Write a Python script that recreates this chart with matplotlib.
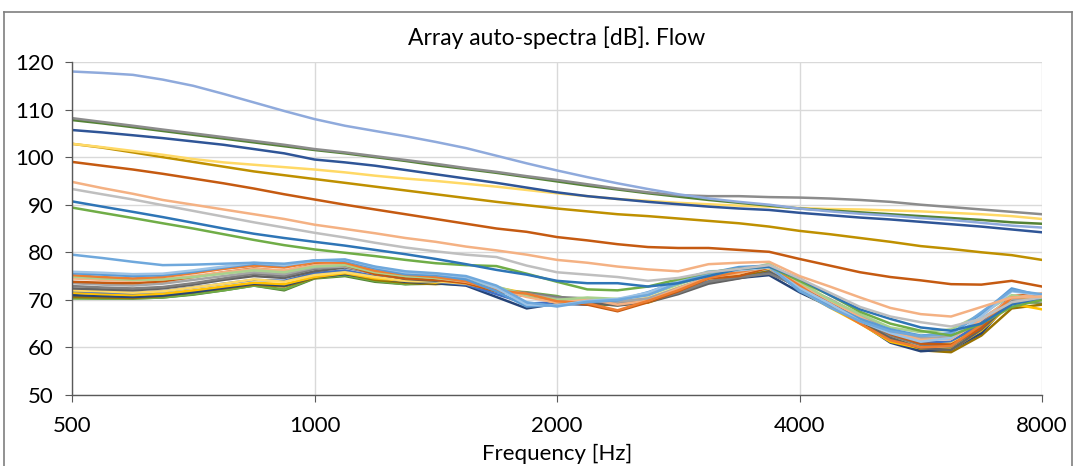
import matplotlib
matplotlib.use("Agg")
import matplotlib.pyplot as plt
from matplotlib.lines import Line2D
from matplotlib.ticker import FixedLocator, NullLocator

plt.rcParams['font.family'] = ['Lato', 'DejaVu Sans']

# frequency grid (Hz), 1/8 octave spacing
freq = [500, 545, 595, 648, 707, 771, 841, 917, 1000, 1091, 1189, 1297, 1414,
        1542, 1682, 1834, 2000, 2181, 2378, 2594, 2828, 3084, 3364, 3668, 4000,
        4362, 4757, 5187, 5657, 6169, 6727, 7336, 8000]

# cluster of channels (low level)
c_lightblue = [75.9, 75.7, 75.4, 75.5, 76.2, 77.0, 77.8, 77.3, 78.2, 78.4, 76.9, 75.8, 75.5, 74.8, 72.5, 69.0, 68.8,
               69.8, 70.2, 71.5, 74.0, 76.0, 76.2, 76.8, 72.5, 69.2, 65.5, 63.0, 61.2, 62.0, 66.5, 71.8, 71.0]
c_blue = [75.6, 75.3, 75.0, 75.2, 75.9, 76.8, 77.6, 77.2, 78.3, 78.2, 76.6, 75.4, 75.2, 74.3, 71.8, 68.6, 68.9,
          69.5, 69.9, 71.6, 73.8, 75.6, 76.9, 77.2, 71.8, 69.0, 66.0, 63.8, 62.5, 63.0, 67.0, 72.4, 70.8]
c_orange = [75.2, 74.8, 74.5, 74.8, 75.6, 76.5, 77.2, 76.8, 77.9, 77.8, 76.1, 75.3, 74.8, 73.9, 72.0, 71.3, 69.7,
            69.3, 67.8, 69.8, 72.0, 74.6, 75.9, 77.0, 73.0, 68.8, 65.0, 61.5, 60.0, 60.3, 64.8, 70.5, 70.6]
c_lightgreen = [74.9, 74.5, 74.2, 74.3, 74.8, 75.5, 76.2, 75.8, 77.0, 77.3, 75.8, 75.0, 74.6, 74.0, 72.8, 71.0, 70.0,
                70.5, 70.2, 71.0, 73.2, 75.3, 76.0, 77.6, 73.8, 70.0, 67.0, 64.2, 63.2, 63.8, 67.0, 71.0, 69.8]
c_darkorange = [73.8, 73.6, 73.5, 73.9, 74.8, 75.8, 76.6, 76.0, 77.5, 77.3, 75.4, 74.5, 74.2, 73.5, 71.8, 70.8, 69.6,
                69.0, 67.6, 69.5, 71.8, 74.5, 75.0, 76.8, 72.4, 69.5, 66.0, 62.8, 60.8, 60.6, 64.0, 70.8, 71.2]
c_gray = [73.5, 73.2, 73.0, 73.4, 74.2, 75.0, 75.8, 75.4, 76.8, 77.0, 75.5, 74.6, 74.5, 74.0, 72.5, 71.2, 70.2,
          70.0, 69.6, 70.3, 72.5, 74.8, 75.8, 76.9, 73.0, 70.2, 66.8, 63.5, 62.0, 62.2, 66.0, 70.2, 69.6]
c_darkgray = [72.9, 72.6, 72.4, 72.7, 73.5, 74.5, 75.5, 75.0, 76.5, 77.0, 75.8, 74.6, 74.4, 74.3, 72.0, 71.5, 70.6,
              70.3, 69.2, 69.8, 71.5, 73.8, 74.8, 75.5, 72.8, 69.8, 66.2, 62.5, 60.5, 60.2, 64.5, 69.8, 70.2]
c_charcoal = [72.4, 72.2, 72.0, 72.4, 73.2, 74.2, 75.0, 74.6, 76.0, 76.8, 75.6, 74.4, 74.0, 74.6, 71.8, 70.8, 70.0,
              69.5, 68.8, 69.5, 71.2, 73.4, 74.5, 75.8, 72.6, 69.3, 65.8, 62.0, 59.8, 59.5, 63.8, 69.5, 69.8]
c_midblue = [71.9, 71.6, 71.4, 71.8, 72.6, 73.4, 74.2, 74.0, 75.6, 76.2, 75.0, 74.0, 73.8, 73.2, 71.2, 69.2, 69.5,
             69.8, 69.6, 70.2, 72.2, 74.2, 75.5, 76.5, 72.2, 69.5, 66.5, 62.8, 61.0, 61.2, 65.2, 70.8, 70.5]
c_yellow = [71.5, 71.2, 71.0, 71.3, 72.0, 72.8, 73.6, 73.3, 74.8, 75.6, 74.5, 74.0, 73.6, 74.2, 72.6, 71.4, 69.8,
            69.6, 69.0, 69.4, 71.6, 74.0, 75.2, 77.2, 72.0, 68.4, 65.0, 61.2, 59.8, 59.6, 63.6, 69.2, 68.0]
c_navy = [71.0, 70.8, 70.6, 70.9, 71.6, 72.5, 73.4, 73.0, 74.8, 75.4, 74.6, 73.8, 73.5, 73.0, 70.6, 68.2, 69.2,
          69.0, 69.4, 70.0, 72.0, 73.6, 74.6, 75.2, 71.6, 68.6, 65.2, 61.0, 59.2, 59.6, 63.0, 70.0, 69.8]
c_olive = [70.6, 70.5, 70.4, 70.8, 71.6, 72.4, 73.2, 72.8, 74.6, 75.5, 74.2, 73.6, 73.3, 73.8, 72.2, 71.0, 70.4,
           69.6, 69.2, 70.0, 71.8, 73.8, 75.0, 76.2, 72.4, 69.0, 65.4, 61.6, 59.4, 59.0, 62.5, 68.2, 69.0]
c_green = [70.3, 70.3, 70.3, 70.5, 71.2, 72.0, 73.0, 72.2, 74.6, 75.2, 74.0, 73.3, 73.8, 73.5, 72.0, 71.6, 70.8,
           69.3, 69.0, 69.8, 72.2, 74.8, 75.8, 77.4, 73.2, 70.0, 66.4, 63.0, 61.2, 61.0, 64.8, 70.6, 70.2]
c_darkgreen = [70.4, 70.3, 70.3, 70.5, 71.1, 72.0, 73.0, 72.0, 74.5, 75.0, 73.8, 73.3, 73.4, 73.2, 71.8, 71.0, 70.2,
               69.1, 68.9, 70.0, 72.5, 74.6, 75.2, 76.6, 72.6, 69.2, 65.6, 62.0, 60.6, 60.2, 64.2, 69.6, 69.4]
c_peach = [74.5, 74.2, 74.0, 74.3, 75.0, 75.8, 76.5, 76.2, 77.3, 77.6, 76.2, 75.2, 74.6, 73.8, 72.3, 70.6, 69.4,
           70.2, 69.0, 69.8, 72.4, 74.8, 75.6, 77.0, 73.4, 69.8, 66.4, 63.2, 61.6, 61.8, 65.8, 70.4, 71.4]
c_paleyellow = [72.0, 71.8, 71.5, 71.8, 72.6, 73.4, 74.3, 73.8, 75.2, 75.8, 74.8, 74.0, 73.9, 73.4, 72.0, 70.8, 69.4,
                69.6, 69.5, 70.4, 72.6, 74.4, 75.4, 76.6, 72.8, 69.6, 66.0, 62.5, 60.4, 60.8, 64.0, 69.8, 70.0]
c_skyblue = [79.5, 78.8, 78.0, 77.3, 77.4, 77.6, 77.8, 77.6, 78.3, 78.5, 77.0, 76.0, 75.6, 75.0, 73.0, 69.5, 68.6,
             69.6, 70.0, 71.0, 73.5, 75.6, 76.6, 77.0, 72.0, 68.4, 65.5, 63.4, 62.4, 62.8, 67.4, 72.0, 71.2]

# channels with higher level
u_periwinkle = [118.0, 117.7, 117.3, 116.3, 115.0, 113.3, 111.5, 109.7, 108.0, 106.6, 105.5, 104.4, 103.2, 101.9,
                100.3, 98.7, 97.2, 95.8, 94.5, 93.3, 92.2, 91.3, 90.6, 90.0, 89.2, 88.6, 88.1, 87.7, 87.2, 86.8,
                86.2, 85.6, 85.2]
u_gray = [108.2, 107.4, 106.6, 105.8, 105.0, 104.2, 103.4, 102.6, 101.7, 101.0, 100.2, 99.4, 98.6, 97.7, 96.9, 96.0,
          95.2, 94.3, 93.4, 92.6, 92.0, 91.8, 91.8, 91.6, 91.5, 91.3, 91.0, 90.6, 90.0, 89.5, 89.0, 88.5, 88.0]
u_green = [107.8, 107.1, 106.3, 105.5, 104.7, 103.9, 103.1, 102.3, 101.5, 100.8, 100.0, 99.2, 98.3, 97.5, 96.7, 95.8,
           94.9, 94.0, 93.2, 92.4, 91.7, 91.0, 90.4, 89.8, 89.2, 88.8, 88.4, 88.0, 87.6, 87.2, 86.8, 86.3, 86.0]
u_darkblue = [105.7, 105.2, 104.6, 104.0, 103.3, 102.6, 101.7, 100.8, 99.5, 98.9, 98.2, 97.3, 96.4, 95.5, 94.6, 93.6,
              92.6, 91.8, 91.2, 90.6, 90.1, 89.6, 89.2, 88.9, 88.3, 87.8, 87.3, 86.9, 86.4, 85.9, 85.4, 84.8, 84.2]
u_yellow = [102.8, 102.1, 101.3, 100.5, 99.6, 98.9, 98.4, 97.9, 97.4, 96.8, 96.1, 95.5, 95.0, 94.4, 93.8, 93.1,
            92.4, 91.8, 91.2, 90.8, 90.4, 90.1, 89.8, 89.6, 89.3, 89.1, 89.0, 88.8, 88.6, 88.3, 88.0, 87.6, 87.0]
u_gold = [102.8, 102.0, 101.0, 100.0, 99.0, 98.0, 97.0, 96.2, 95.4, 94.6, 93.8, 93.0, 92.2, 91.4, 90.6, 89.9, 89.2,
          88.6, 88.0, 87.6, 87.1, 86.6, 86.1, 85.4, 84.5, 83.8, 83.0, 82.2, 81.3, 80.7, 80.0, 79.4, 78.4]
u_rust = [99.0, 98.2, 97.4, 96.5, 95.5, 94.5, 93.4, 92.2, 91.1, 90.0, 89.0, 88.0, 87.0, 86.0, 85.0, 84.3, 83.2,
          82.5, 81.7, 81.1, 80.9, 80.9, 80.5, 80.1, 78.6, 77.2, 75.8, 74.8, 74.1, 73.3, 73.2, 74.0, 72.8]
u_salmon = [94.8, 93.5, 92.3, 91.0, 90.0, 89.0, 88.0, 87.0, 85.8, 84.9, 84.0, 83.0, 82.2, 81.2, 80.4, 79.5, 78.4,
            77.8, 77.0, 76.4, 76.0, 77.5, 77.8, 78.0, 75.0, 72.8, 70.5, 68.3, 67.0, 66.5, 68.5, 70.5, 70.7]
u_silver = [93.3, 92.2, 91.1, 89.9, 88.7, 87.5, 86.3, 85.2, 84.1, 83.1, 82.0, 81.0, 80.2, 79.5, 79.0, 77.2, 75.8,
            75.3, 74.8, 74.0, 74.6, 75.8, 76.5, 77.3, 74.5, 71.5, 68.5, 66.5, 65.3, 64.4, 66.0, 69.5, 70.5]
u_blue = [90.7, 89.6, 88.5, 87.4, 86.2, 85.0, 83.9, 83.0, 82.2, 81.4, 80.5, 79.6, 78.6, 77.5, 76.3, 75.3, 74.0,
          73.5, 73.5, 72.8, 73.5, 75.0, 76.5, 77.0, 74.5, 71.0, 68.0, 66.0, 64.2, 63.5, 65.0, 69.0, 70.5]
u_lightgreen = [89.4, 88.3, 87.2, 86.1, 85.0, 83.8, 82.6, 81.5, 80.6, 79.9, 79.2, 78.4, 77.7, 77.3, 77.1, 75.5,
                73.8, 72.2, 72.0, 72.8, 74.3, 75.8, 76.5, 77.0, 74.0, 71.0, 67.5, 65.0, 63.5, 62.5, 65.0, 68.5, 70.0]

cluster = [
    (c_darkgreen, '#548235'), (c_green, '#70AD47'), (c_olive, '#997300'), (c_navy, '#264478'),
    (c_yellow, '#FFC000'), (c_midblue, '#4472C4'), (c_paleyellow, '#FFD966'), (c_charcoal, '#636363'),
    (c_darkgray, '#7F7F7F'), (c_gray, '#A5A5A5'), (c_darkorange, '#C55A11'), (c_peach, '#F4B183'),
    (c_lightgreen, '#A9D18E'), (c_orange, '#ED7D31'), (c_blue, '#5B9BD5'), (c_lightblue, '#9DC3E6'),
    (c_skyblue, '#6FA8DC'),
]
upper = [
    (u_lightgreen, '#70AD47'), (u_blue, '#2E75B6'), (u_silver, '#BFBFBF'), (u_salmon, '#F4B183'),
    (u_rust, '#C55A11'), (u_gold, '#BF9000'), (u_yellow, '#FFD966'), (u_darkblue, '#2F5597'),
    (u_green, '#548235'), (u_gray, '#8C8C8C'), (u_periwinkle, '#8FAADC'),
]

fig = plt.figure(figsize=(10.75, 4.66), dpi=100)
ax = fig.add_axes([72 / 1075, 1 - 395 / 466, (1042 - 72) / 1075, (395 - 62) / 466])

for vals, col in cluster + upper:
    ax.plot(freq, vals, color=col, lw=1.8, solid_joinstyle='round')

ax.set_xscale('log', base=2)
ax.set_xlim(500, 8000)
ax.set_ylim(50, 120)
ax.xaxis.set_major_locator(FixedLocator([500, 1000, 2000, 4000, 8000]))
ax.xaxis.set_minor_locator(NullLocator())
ax.set_xticklabels(['500', '1000', '2000', '4000', '8000'])
ax.set_yticks(range(50, 121, 10))
ax.grid(True, color='#D9D9D9', lw=1)
ax.set_axisbelow(True)
for s in ['top', 'right']:
    ax.spines[s].set_visible(False)
for s in ['left', 'bottom']:
    ax.spines[s].set_color('#595959')
    ax.spines[s].set_linewidth(1)
ax.tick_params(axis='y', length=5, color='#595959', labelsize=16, pad=8, labelcolor='#000000')
ax.tick_params(axis='x', length=5, color='#595959', labelsize=16, pad=10, labelcolor='#000000')

ax.set_title('Array auto-spectra [dB]. Flow', fontsize=16.5, pad=12)
ax.set_xlabel('Frequency [Hz]', fontsize=16, labelpad=6)

# outer chart border
bc = '#7F7F7F'
fig.add_artist(Line2D([4 / 1075, 4 / 1075], [0, 1 - 12 / 466], color=bc, lw=1.2, transform=fig.transFigure))
fig.add_artist(Line2D([4 / 1075, 1072 / 1075], [1 - 12 / 466, 1 - 12 / 466], color=bc, lw=1.2, transform=fig.transFigure))
fig.add_artist(Line2D([1072 / 1075, 1072 / 1075], [0, 1 - 12 / 466], color=bc, lw=1.2, transform=fig.transFigure))

fig.savefig('out.png', dpi=100)
